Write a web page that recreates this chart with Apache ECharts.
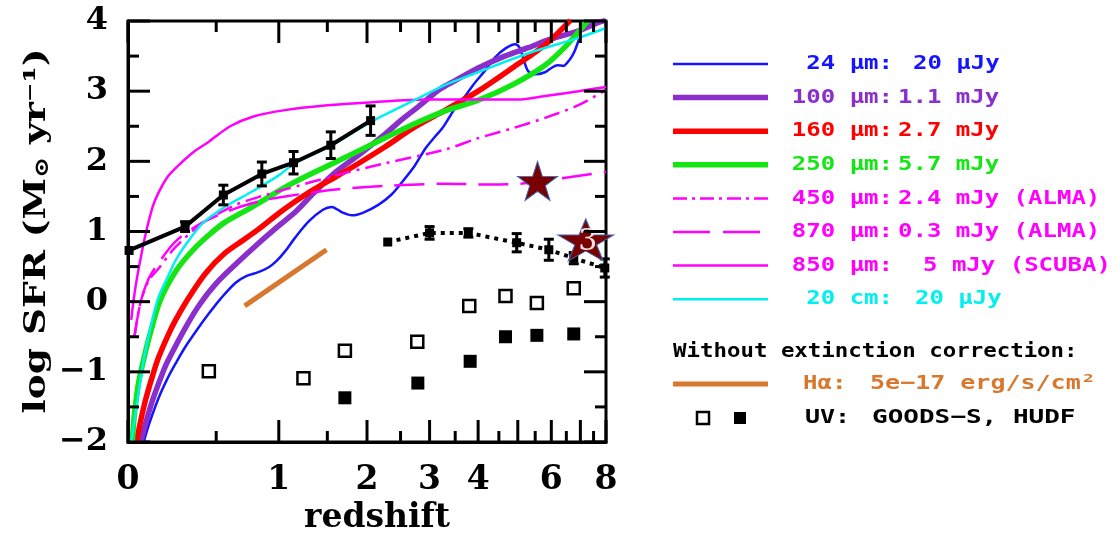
<!DOCTYPE html>
<html>
<head>
<meta charset="utf-8">
<script src="https://cdn.jsdelivr.net/npm/echarts@6/dist/echarts.min.js"></script>
<style>
html,body{margin:0;padding:0;background:#fff;}
#c{width:1120px;height:534px;}
</style>
</head>
<body>
<div id="c"></div>
<script>
// ---- axis ticks ----
const xMajorTicks = [0, 1, 2, 3, 4, 5, 6, 7, 8];
const xMinorTicks = [0.5, 1.5, 2.5, 3.5, 4.5, 5.5, 6.5, 7.5];
const xTickLabels = [0, 1, 2, 3, 4, 6, 8];
const yMajorTicks = [-2, -1, 0, 1, 2, 3, 4];
const yMinorTicks = [-1.5, -0.5, 0.5, 1.5, 2.5, 3.5];
const zMax = 8;
const yMin = -2, yMax = 4;

// ---- curves: [redshift, log SFR] ----
const mips24 = [[0.075,-2.0],[0.1,-1.76],[0.15,-1.38],[0.2,-1.09],[0.245,-0.88],[0.3,-0.65],[0.38,-0.38],[0.45,-0.17],[0.53,0.04],[0.64,0.27],[0.73,0.37],[0.82,0.42],[0.91,0.49],[0.98,0.58],[1.06,0.72],[1.16,0.92],[1.3,1.15],[1.45,1.31],[1.55,1.35],[1.68,1.27],[1.8,1.23],[1.95,1.27],[2.16,1.38],[2.35,1.52],[2.53,1.71],[2.73,1.93],[2.93,2.19],[3.1,2.35],[3.24,2.47],[3.4,2.65],[3.5,2.76],[3.7,2.92],[3.9,3.1],[4.17,3.3],[4.4,3.48],[4.67,3.61],[4.93,3.67],[5.05,3.62],[5.15,3.47],[5.3,3.28],[5.5,3.24],[5.8,3.27],[6.0,3.33],[6.2,3.37],[6.4,3.36],[6.56,3.42],[6.7,3.5],[6.8,3.58],[6.95,3.74]];
const pacs100 = [[0.06,-2.0],[0.09,-1.68],[0.12,-1.40],[0.175,-1.0],[0.2,-0.85],[0.3,-0.38],[0.39,-0.04],[0.5,0.26],[0.65,0.55],[0.82,0.83],[0.99,1.07],[1.16,1.28],[1.35,1.55],[1.6,1.85],[1.9,2.1],[2.25,2.38],[2.5,2.58],[2.8,2.78],[3.2,3.03],[3.5,3.15],[4.0,3.33],[4.65,3.5],[5.3,3.62],[5.9,3.73],[6.93,3.86],[7.7,3.98],[8.0,4.01]];
const pacs160 = [[0.04,-2.0],[0.06,-1.7],[0.084,-1.40],[0.12,-1.05],[0.15,-0.8],[0.2,-0.49],[0.245,-0.26],[0.32,0.05],[0.43,0.41],[0.56,0.69],[0.7,0.88],[0.82,1.03],[1.0,1.26],[1.16,1.43],[1.35,1.6],[1.6,1.78],[1.9,1.98],[2.25,2.2],[2.7,2.47],[3.3,2.73],[4.0,3.0],[4.85,3.33],[5.8,3.66],[6.64,4.01]];
const spire250 = [[0.02,-2.0],[0.03,-1.6],[0.05,-1.15],[0.084,-0.71],[0.11,-0.43],[0.16,0.02],[0.25,0.45],[0.35,0.74],[0.45,0.95],[0.56,1.13],[0.7,1.28],[0.82,1.40],[1.0,1.58],[1.16,1.71],[1.35,1.84],[1.6,1.99],[2.25,2.33],[2.8,2.56],[3.3,2.72],[4.0,2.87],[4.85,3.09],[5.8,3.37],[6.5,3.65],[7.3,4.01]];
const alma450 = [[0.03,-0.5],[0.06,0.0],[0.1,0.3],[0.15,0.47],[0.245,0.78],[0.41,1.12],[0.64,1.38],[0.88,1.52],[1.06,1.6],[1.6,1.8],[2.25,1.97],[3.3,2.17],[4.0,2.33],[4.85,2.47],[5.8,2.62],[6.93,2.8],[8.0,3.02]];
const alma870 = [[0.03,-0.5],[0.06,0.0],[0.1,0.33],[0.15,0.55],[0.245,0.86],[0.41,1.13],[0.64,1.33],[0.88,1.45],[1.06,1.5],[1.6,1.6],[2.25,1.65],[3.3,1.68],[4.25,1.67],[5.3,1.69],[6.35,1.76],[8.0,1.85]];
const scuba850 = [[0.015,-0.26],[0.025,0.0],[0.04,0.3],[0.06,0.62],[0.084,0.96],[0.12,1.35],[0.15,1.55],[0.2,1.78],[0.26,1.94],[0.35,2.13],[0.45,2.28],[0.6,2.5],[0.78,2.64],[1.06,2.73],[1.5,2.8],[2.03,2.84],[3.0,2.88],[4.0,2.88],[5.0,2.88],[5.8,2.93],[6.93,3.0],[8.0,3.06]];
const radio20cm = [[0.015,-2.0],[0.045,-1.4],[0.08,-0.75],[0.145,0.02],[0.2,0.35],[0.245,0.59],[0.3,0.8],[0.41,1.12],[0.56,1.35],[0.77,1.57],[1.0,1.8],[1.15,1.97],[1.54,2.22],[2.05,2.56],[2.8,2.9],[3.3,3.09],[4.0,3.27],[5.3,3.54],[6.93,3.76],[8.0,3.9]];
const halpha = [[0.71,-0.06],[1.49,0.74]];

// ---- points with error bars: [redshift, log SFR, error] ----
const sfrSolid = [[0.005,0.73,0.03],[0.30,1.07,0.07],[0.55,1.52,0.14],[0.85,1.82,0.17],[1.14,1.98,0.16],[1.54,2.23,0.19],[2.05,2.58,0.21]];
const sfrDotted = [[2.30,0.85,0.03],[3.0,0.98,0.09],[3.78,0.98,0.06],[4.97,0.84,0.13],[5.92,0.74,0.15],[6.76,0.62,0.08],[7.95,0.48,0.13]];

// ---- UV points ----
const uvGoods = [[0.45,-0.99],[1.24,-1.09],[1.71,-0.70],[2.78,-0.57],[3.8,-0.06],[4.67,0.08],[5.55,-0.02],[6.76,0.19]];
const uvHudf = [[1.71,-1.37],[2.79,-1.16],[3.82,-0.85],[4.67,-0.50],[5.55,-0.48],[6.76,-0.46]];

// ---- stars ----
const stars = [[5.57,1.72,''],[7.2,0.88,'3']];

const L = z => Math.log10(1 + z);
const toXY = arr => arr.map(p => [L(p[0]), p[1]]);
const xMax = L(zMax);

const C = {
  blue:'#1414ff', purple:'#8a2fcc', red:'#ff0000', green:'#14e614',
  magenta:'#ff00ff', cyan:'#00f0f0', orange:'#d8782e', black:'#000000'
};

function lineSeries(name, data, color, width, type) {
  return {
    name, type:'line', data: toXY(data), showSymbol:false, smooth:0.3,
    lineStyle:{color, width, type: type || 'solid', cap:'butt'},
    xAxisIndex:0, yAxisIndex:0, z:2, silent:true, animation:false
  };
}

function errSeries(name, data) {
  return {
    name, type:'custom', xAxisIndex:0, yAxisIndex:0, z:4, animation:false, silent:true,
    data: data.map(p => [L(p[0]), p[1], p[2]]),
    renderItem(params, api) {
      const x = api.value(0), y = api.value(1), e = api.value(2);
      const c = api.coord([x, y]);
      const t = api.coord([x, y + e]);
      const b = api.coord([x, y - e]);
      const cap = 5;
      const st = {stroke:'#000', lineWidth:3};
      const ch = [
        {type:'line', shape:{x1:c[0], y1:t[1], x2:c[0], y2:b[1]}, style:st},
        {type:'rect', shape:{x:c[0]-4.5, y:c[1]-4.5, width:9, height:9}, style:{fill:'#000'}}
      ];
      if (e > 0.05) {
        ch.push({type:'line', shape:{x1:c[0]-cap, y1:t[1], x2:c[0]+cap, y2:t[1]}, style:st});
        ch.push({type:'line', shape:{x1:c[0]-cap, y1:b[1], x2:c[0]+cap, y2:b[1]}, style:st});
      }
      return {type:'group', children:ch};
    }
  };
}

// tick marks: [x, y, length]; direction follows from which edge the point sits on
const xTickData = [];
xMajorTicks.forEach(z => { xTickData.push([L(z), yMin, 22]); xTickData.push([L(z), yMax, 22]); });
xMinorTicks.forEach(z => { xTickData.push([L(z), yMin, 11]); xTickData.push([L(z), yMax, 11]); });
const yTickData = [];
yMajorTicks.forEach(v => { yTickData.push([0, v, 22]); yTickData.push([xMax, v, 22]); });
yMinorTicks.forEach(v => { yTickData.push([0, v, 11]); yTickData.push([xMax, v, 11]); });

function tickSeries(name, data, horizontal) {
  return {
    name, type:'custom', xAxisIndex:0, yAxisIndex:0, z:8, animation:false, silent:true,
    data,
    renderItem(params, api) {
      const x = api.value(0), y = api.value(1), len = api.value(2);
      const c = api.coord([x, y]);
      let x2 = c[0], y2 = c[1];
      if (horizontal) { x2 = x < xMax / 2 ? c[0] + len : c[0] - len; }
      else { y2 = y < (yMin + yMax) / 2 ? c[1] - len : c[1] + len; }
      return {type:'line', shape:{x1:c[0], y1:c[1], x2:x2, y2:y2}, style:{stroke:'#000', lineWidth:3}};
    }
  };
}

const starPath = 'path://M50,0 L61.8,35.1 L98.9,35.1 L69,56.9 L80.4,91.9 L50,70.2 L19.6,91.9 L31,56.9 L1.1,35.1 L38.2,35.1 Z';
const tickFont = 'DejaVu Serif';

const option = {
  animation:false,
  backgroundColor:'#fff',
  grid:{left:128, right:514, top:21, bottom:92, outerBoundsMode:'none', containLabel:false,
        show:true, borderColor:'#000', borderWidth:3},
  xAxis: [{
    type:'value', min:0, max:xMax, position:'bottom',
    axisLine:{show:true, onZero:false, lineStyle:{color:'#000', width:3}},
    axisTick:{show:false},
    axisLabel:{
      show:true, customValues: xTickLabels.map(L), margin:22,
      formatter: v => String(Math.round(Math.pow(10, v) - 1)),
      fontFamily:tickFont, fontWeight:'bold', fontSize:33, color:'#000'
    },
    splitLine:{show:false},
    name:'redshift', nameLocation:'middle', nameGap:58,
    nameTextStyle:{fontFamily:tickFont, fontWeight:'bold', fontSize:33, color:'#000', padding:[0,0,0,20]}
  }],
  yAxis: [{
    type:'value', min:yMin, max:yMax, interval:1, position:'left',
    axisLine:{show:true, onZero:false, lineStyle:{color:'#000', width:3}},
    axisTick:{show:false}, minorTick:{show:false},
    axisLabel:{
      show:true, margin:20, formatter: v => String(v).replace('-', '\u2212'),
      fontFamily:tickFont, fontWeight:'bold', fontSize:32, color:'#000'
    },
    splitLine:{show:false}
  }],
  graphic: [],
  series: [
    lineSeries('24um', mips24, C.blue, 2.5),
    lineSeries('100um', pacs100, C.purple, 5.5),
    lineSeries('160um', pacs160, C.red, 5.5),
    lineSeries('250um', spire250, C.green, 5.5),
    lineSeries('450um', alma450, C.magenta, 2.5, [16,6,3,6]),
    lineSeries('870um', alma870, C.magenta, 2.5, [30,12]),
    lineSeries('850um', scuba850, C.magenta, 2.5),
    lineSeries('20cm', radio20cm, C.cyan, 2.5),
    lineSeries('Halpha', halpha, C.orange, 5),
    Object.assign(lineSeries('SFR solid', sfrSolid.map(p => [p[0], p[1]]), C.black, 4), {smooth:false, z:3}),
    Object.assign(lineSeries('SFR dotted', sfrDotted.map(p => [p[0], p[1]]), C.black, 4, [4,5]), {smooth:false, z:3}),
    errSeries('SFR solid pts', sfrSolid),
    errSeries('SFR dotted pts', sfrDotted),
    {name:'UV GOODS-S', type:'scatter', data:toXY(uvGoods), symbol:'rect', symbolSize:12,
     itemStyle:{color:'#fff', borderColor:'#000', borderWidth:2.5, opacity:1}, z:5, silent:true},
    {name:'UV HUDF', type:'scatter', data:toXY(uvHudf), symbol:'rect', symbolSize:13,
     itemStyle:{color:'#000', opacity:1}, z:5, silent:true},
    {name:'stars', type:'scatter', clip:false, z:6, silent:true,
     data: stars.map((s, i) => ({value:[L(s[0]), s[1]], symbolSize: i === 0 ? [40,39] : [56,42], label:{show: s[2] !== '', formatter: s[2]}})),
     symbol: starPath,
     itemStyle:{color:'#7a0000', borderColor:'#3f62b0', borderWidth:1, opacity:1},
     label:{position:'inside', color:'#f6e2e2', fontFamily:'DejaVu Serif', fontSize:30, offset:[2,2]}},
    tickSeries('x ticks', xTickData, false),
    tickSeries('y ticks', yTickData, true)
  ]
};

// ---- y-axis title and legend (graphics) ----
const graphics = option.graphic;
graphics.push({type:'text', x:37, y:231, rotation:Math.PI/2, scaleX:1.25,
  style:{text:'{a|log SFR (M}{s|\u2299}{a| yr\u207B\u00B9)}', textAlign:'center', align:'center', textVerticalAlign:'middle', verticalAlign:'middle',
    rich:{a:{fontFamily:tickFont, fontWeight:'bold', fontSize:30, fill:'#000', color:'#000'},
          s:{fontFamily:tickFont, fontWeight:'bold', fontSize:20, fill:'#000', color:'#000', padding:[12,0,0,0]}}}});

const legendRows = [
  {left:'24 \u00B5m:', right:'20 \u00B5Jy', rx:913, color:C.blue, width:2.5, dash:null},
  {left:'100 \u00B5m:', right:'1.1 mJy', rx:898, color:C.purple, width:5.5, dash:null},
  {left:'160 \u00B5m:', right:'2.7 mJy', rx:898, color:C.red, width:5.5, dash:null},
  {left:'250 \u00B5m:', right:'5.7 mJy', rx:898, color:C.green, width:5.5, dash:null},
  {left:'450 \u00B5m:', right:'2.4 mJy (ALMA)', rx:898, color:C.magenta, width:2.5, dash:[14,5,3,5]},
  {left:'870 \u00B5m:', right:'0.3 mJy (ALMA)', rx:898, color:C.magenta, width:2.5, dash:[37,13]},
  {left:'850 \u00B5m:', right:'5 mJy (SCUBA)', rx:923, color:C.magenta, width:2.5, dash:null},
  {left:'20 cm:', right:'20 \u00B5Jy', rx:915, color:C.cyan, width:2.5, dash:null}
];
const legendY0 = 64, legendDy = 33.6;
const lf = 'bold 20px "DejaVu Sans Mono"';
function txt(x, y, s, color, align, sx) {
  return {type:'text', x, y, scaleX:sx, style:{text:s, font:lf, fill:color, textAlign:align, align, textVerticalAlign:'middle', verticalAlign:'middle'}};
}
legendRows.forEach((r, i) => {
  const y = legendY0 + i * legendDy;
  graphics.push({type:'line', shape:{x1:673, y1:y, x2:768, y2:y}, style:{stroke:r.color, lineWidth:r.width, lineDash:r.dash}});
  graphics.push(txt(893, y, r.left, r.color, 'right', 1.2));
  graphics.push(txt(r.rx, y, r.right, r.color, 'left', 1.2));
});
graphics.push(txt(673, 352, 'Without extinction correction:', '#000', 'left', 1.12));
graphics.push({type:'line', shape:{x1:673, y1:384, x2:768, y2:384}, style:{stroke:C.orange, lineWidth:5}});
graphics.push(txt(803, 384, 'H\u03B1:', C.orange, 'left', 1.2));
graphics.push(txt(870, 384, '5e\u221217 erg/s/cm\u00B2', C.orange, 'left', 1.25));
graphics.push({type:'rect', shape:{x:697, y:412, width:12, height:12}, style:{fill:'#fff', stroke:'#000', lineWidth:2.5}});
graphics.push({type:'rect', shape:{x:734, y:412, width:12, height:12}, style:{fill:'#000'}});
graphics.push(txt(805, 418, 'UV:', '#000', 'left', 1.25));
graphics.push(txt(872, 418, 'GOODS\u2212S, HUDF', '#000', 'left', 1.3));

const chart = echarts.init(document.getElementById('c'), null, {renderer:'canvas'});
chart.setOption(option);
</script>
</body>
</html>
